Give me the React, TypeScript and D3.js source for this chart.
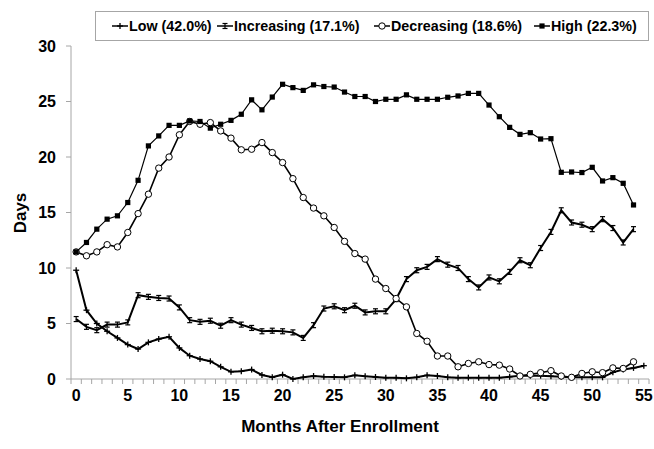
import React from "react";
import * as d3 from "d3";

const months = d3.range(0, 56);
const xTickLabels = [0, 5, 10, 15, 20, 25, 30, 35, 40, 45, 50, 55];
const yTickLabels = [0, 5, 10, 15, 20, 25, 30];

const lowValues = [
  9.8, 6.2, 5.0, 4.3, 3.7, 3.1, 2.7, 3.3, 3.6, 3.8, 2.8, 2.1, 1.8, 1.6, 1.1, 0.65,
  0.7, 0.85, 0.36, 0.15, 0.39, 0.0, 0.15, 0.27, 0.21, 0.18, 0.15, 0.33, 0.24, 0.18,
  0.12, 0.12, 0.06, 0.15, 0.33, 0.27, 0.15, 0.12, 0.12, 0.12, 0.12, 0.12, 0.2, 0.3,
  0.3, 0.3, 0.25, 0.2, 0.15, 0.15, 0.15, 0.15, 0.6, 0.85, 1.0, 1.2,
];
const increasingValues = [
  5.4, 4.7, 4.4, 4.9, 4.9, 5.1, 7.55, 7.4, 7.3, 7.25, 6.45, 5.3, 5.15, 5.25, 4.8, 5.3,
  4.9, 4.6, 4.3, 4.35, 4.3, 4.2, 3.7, 4.85, 6.35, 6.55, 6.2, 6.6, 6.0, 6.1,
  6.1, 7.2, 9.0, 9.8, 10.1, 10.8, 10.3, 10.0, 9.0, 8.25, 9.15, 8.8, 9.65, 10.7,
  10.25, 11.8, 13.25, 15.2, 14.1, 13.9, 13.5, 14.4, 13.6, 12.3, 13.5,
];
const decreasingValues = [
  11.45, 11.1, 11.45, 12.1, 11.9, 13.2, 14.9, 16.65, 19.0, 20.0, 22.0, 23.2, 22.95,
  23.1, 22.35, 21.7, 20.65, 20.7, 21.3, 20.4, 19.5, 18.05, 16.35, 15.4, 14.7, 13.65,
  12.4, 11.3, 10.8, 9.0, 8.15, 7.25, 6.5, 4.1, 3.4, 2.07, 2.07, 1.1, 1.4, 1.55, 1.3,
  1.25, 0.9, 0.27, 0.42, 0.57, 0.75, 0.27, 0.15, 0.5, 0.65, 0.57, 1.0, 0.95, 1.55,
];
const highValues = [
  11.45, 12.3, 13.5, 14.4, 14.7, 15.9, 17.9, 21.0, 21.9, 22.85, 22.85, 23.25, 23.2,
  22.6, 22.95, 23.3, 23.85, 25.15, 24.25, 25.4, 26.55, 26.25, 26.0, 26.5, 26.35, 26.3,
  25.85, 25.45, 25.45, 25.0, 25.2, 25.2, 25.6, 25.2, 25.2, 25.2, 25.38, 25.5, 25.73,
  25.73, 24.68, 23.63, 22.67, 22.04, 22.19, 21.62, 21.65, 18.62, 18.65, 18.6, 19.07,
  17.84, 18.14, 17.63, 15.68,
];

const legendLabels = ["Low (42.0%)", "Increasing (17.1%)", "Decreasing (18.6%)", "High (22.3%)"];
const legendX = [112, 217, 374, 534];

const FONT = "'Liberation Sans', Arial, sans-serif";
const AXIS = "#a6a6a6";

type Marker = "plus" | "smallsq" | "circle" | "square";

function MarkerShape({ kind, cx, cy }: { kind: Marker; cx: number; cy: number }) {
  if (kind === "plus") {
    return (
      <g stroke="#000" strokeWidth={1.3}>
        <line x1={cx - 3} x2={cx + 3} y1={cy} y2={cy} />
        <line x1={cx} x2={cx} y1={cy - 3} y2={cy + 3} />
      </g>
    );
  }
  if (kind === "smallsq") {
    return (
      <g stroke="#000" strokeWidth={1.2}>
        <line x1={cx - 2.5} x2={cx + 2.5} y1={cy - 2.5} y2={cy - 2.5} />
        <line x1={cx - 2.5} x2={cx + 2.5} y1={cy + 2.5} y2={cy + 2.5} />
        <line x1={cx} x2={cx} y1={cy - 2.5} y2={cy + 2.5} />
      </g>
    );
  }
  if (kind === "circle") {
    return <circle cx={cx} cy={cy} r={3.2} fill="#fff" stroke="#000" strokeWidth={1} />;
  }
  return <rect x={cx - 2.6} y={cy - 2.6} width={5.2} height={5.2} fill="#000" />;
}

export default function App() {
  const width = 654;
  const height = 449;
  const x = d3.scaleLinear().domain([-0.5, 55.5]).range([71, 649]);
  const y = d3.scaleLinear().domain([0, 30]).range([379, 46]);

  const line = d3
    .line<number>()
    .x((_, i) => x(months[i]))
    .y((d) => y(d));

  const series: { values: number[]; marker: Marker; width: number }[] = [
    { values: lowValues, marker: "plus", width: 2 },
    { values: increasingValues, marker: "smallsq", width: 2 },
    { values: decreasingValues, marker: "circle", width: 1.6 },
    { values: highValues, marker: "square", width: 1.2 },
  ];

  const halfTicks = d3.range(-0.5, 56, 1);

  return (
    <svg
      width={width}
      height={height}
      style={{ position: "absolute", left: 0, top: 0, background: "#fff" }}
    >
      <rect x={0} y={0} width={width} height={height} fill="#fff" />
      {/* Y axis */}
      <line x1={71} x2={71} y1={y(30)} y2={y(0)} stroke={AXIS} strokeWidth={1} />
      {yTickLabels.map((t) => (
        <g key={t}>
          <line x1={66} x2={71} y1={y(t)} y2={y(t)} stroke={AXIS} />
          <text
            x={56}
            y={y(t)}
            dy="0.36em"
            textAnchor="end"
            fontFamily={FONT}
            fontWeight="bold"
            fontSize={16}
          >
            {t}
          </text>
        </g>
      ))}
      {/* X axis */}
      <line x1={x(-0.5)} x2={x(55.5)} y1={y(0)} y2={y(0)} stroke={AXIS} />
      {halfTicks.map((t) => (
        <line key={t} x1={x(t)} x2={x(t)} y1={y(0)} y2={y(0) + 5} stroke={AXIS} />
      ))}
      {xTickLabels.map((t) => (
        <text
          key={t}
          x={x(t)}
          y={401}
          textAnchor="middle"
          fontFamily={FONT}
          fontWeight="bold"
          fontSize={16}
        >
          {t}
        </text>
      ))}
      <text
        x={340}
        y={432}
        textAnchor="middle"
        fontFamily={FONT}
        fontWeight="bold"
        fontSize={17}
      >
        Months After Enrollment
      </text>
      <text
        transform={`translate(26,213) rotate(-90)`}
        textAnchor="middle"
        fontFamily={FONT}
        fontWeight="bold"
        fontSize={17}
      >
        Days
      </text>

      {/* Series */}
      {series.map((s, si) => (
        <g key={si}>
          <path d={line(s.values) || ""} fill="none" stroke="#000" strokeWidth={s.width} />
          {s.values.map((v, i) => (
            <MarkerShape key={i} kind={s.marker} cx={x(months[i])} cy={y(v)} />
          ))}
        </g>
      ))}

      {/* Legend */}
      <rect x={95.5} y={11.5} width={553} height={29} fill="#fff" stroke={AXIS} strokeWidth={1} />
      {legendLabels.map((lab, i) => (
        <g key={lab}>
          <line x1={legendX[i]} x2={legendX[i] + 16} y1={26} y2={26} stroke="#000" strokeWidth={1.5} />
          <MarkerShape kind={series[i].marker} cx={legendX[i] + 8} cy={26} />
          <text
            x={legendX[i] + 17}
            y={31}
            fontFamily={FONT}
            fontWeight="bold"
            fontSize={14.3}
          >
            {lab}
          </text>
        </g>
      ))}
    </svg>
  );
}
